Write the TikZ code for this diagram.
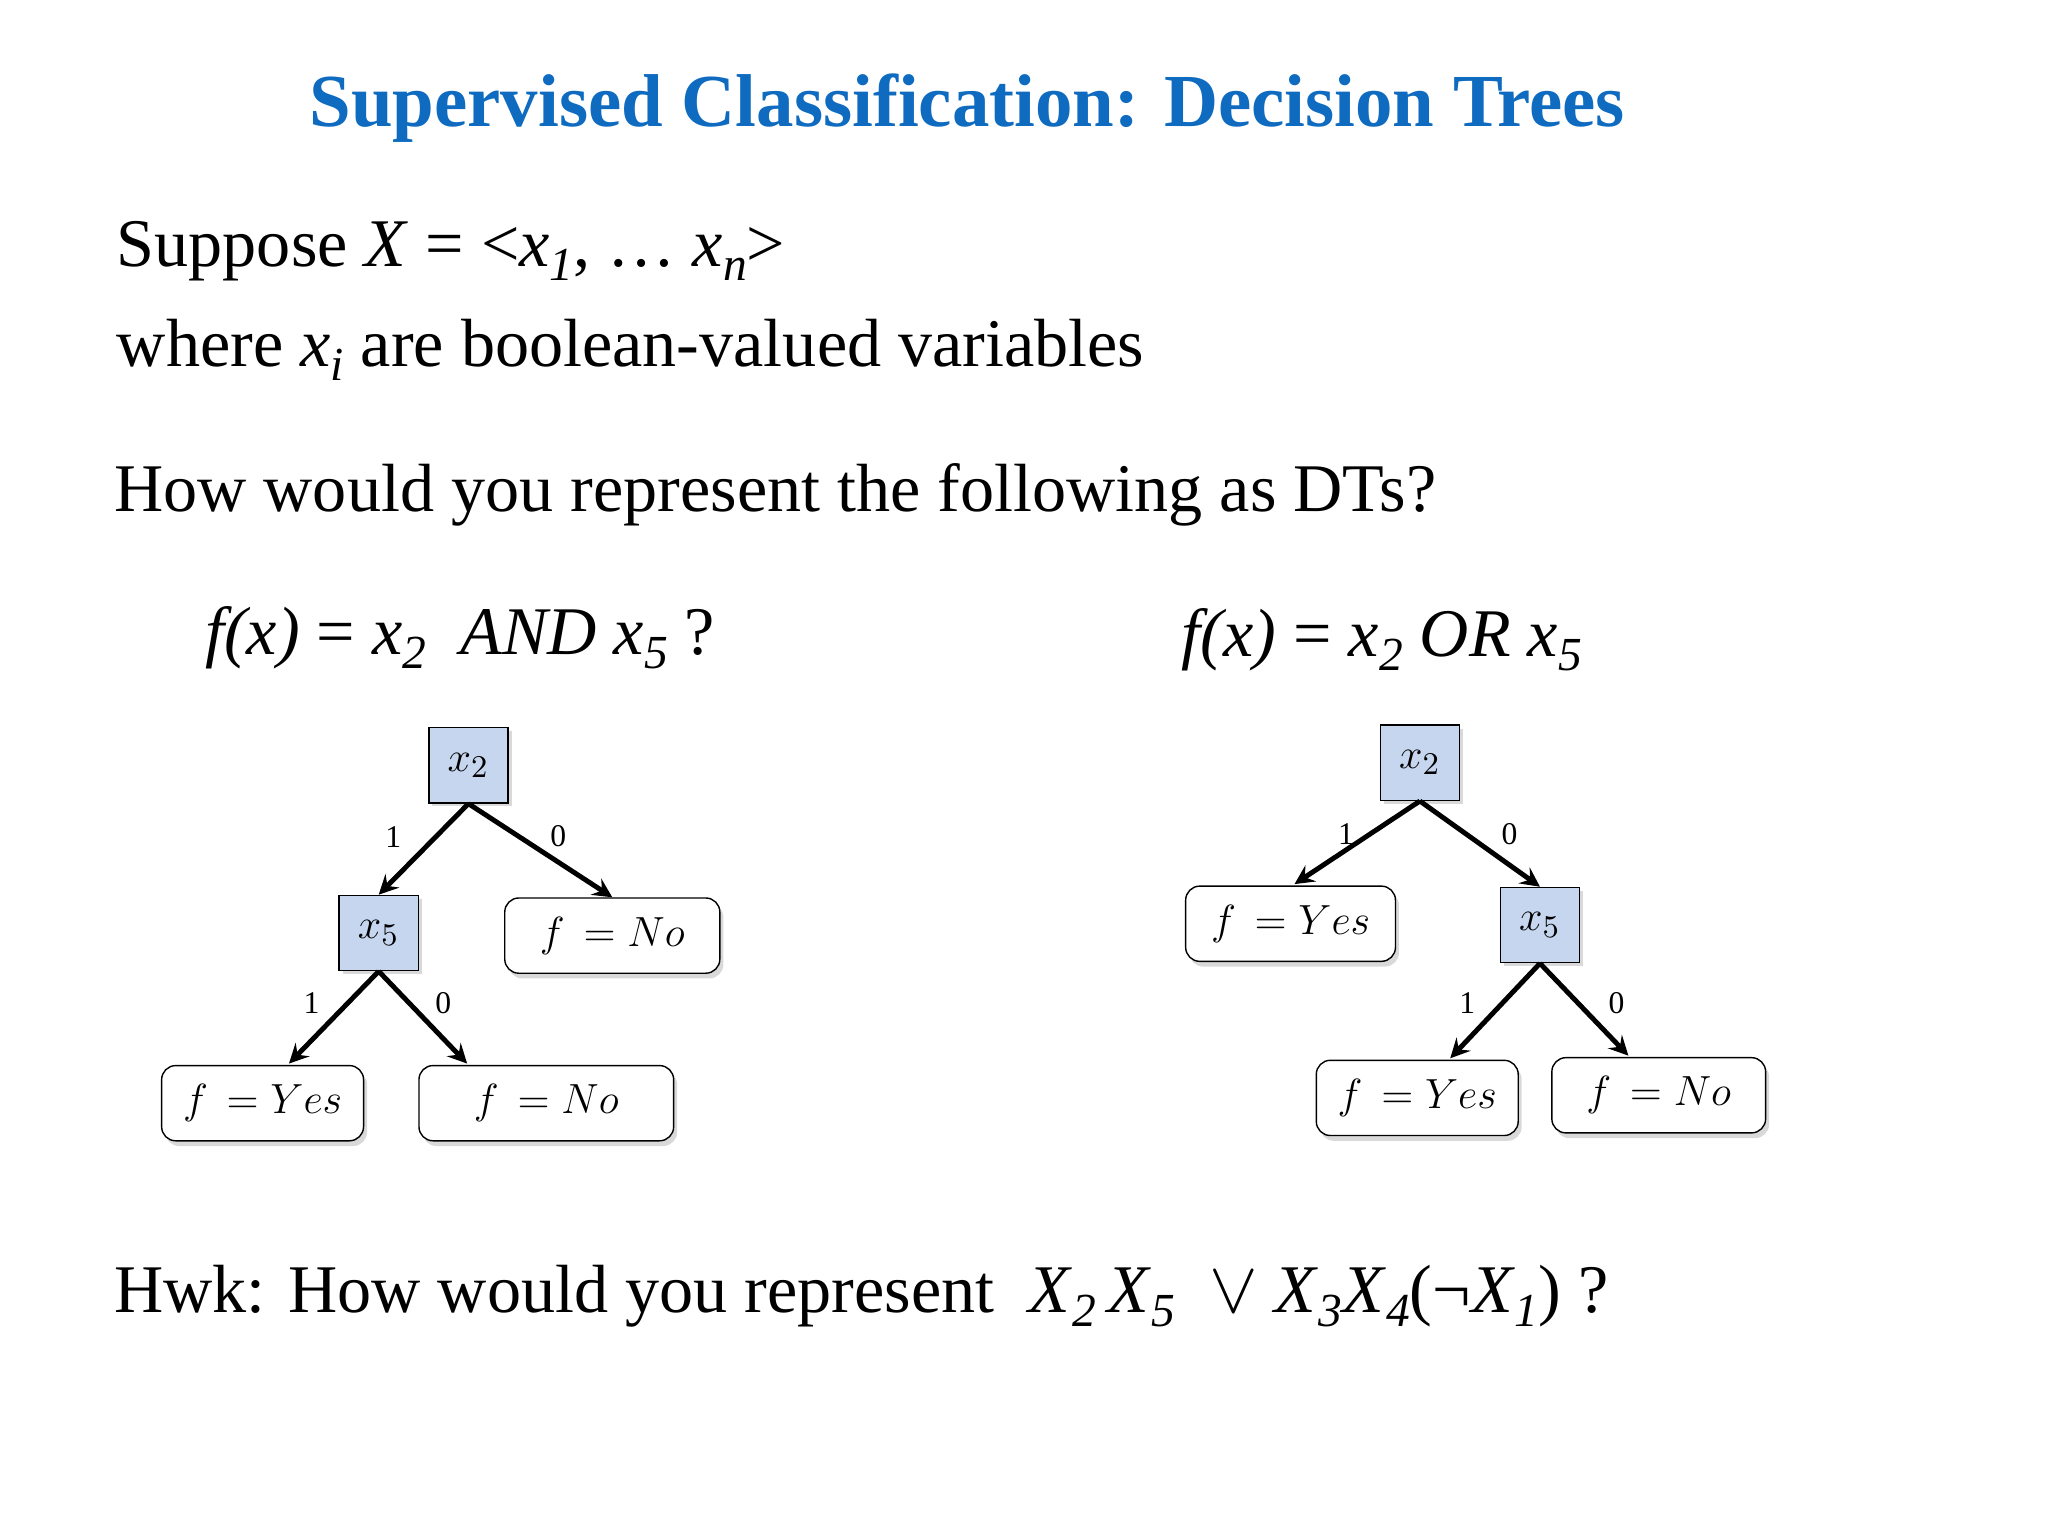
\documentclass[tikz,border=0pt]{standalone}
\usepackage{fontspec}
\setmainfont{Liberation Serif}
\usetikzlibrary{calc,shadows}
\definecolor{ttl}{RGB}{14,107,192}
\definecolor{boxb}{RGB}{198,214,238}
\newcommand{\sbx}[1]{\raisebox{-0.45ex}{\fontsize{13.5}{14}\selectfont\textit{#1}}}
\begin{document}
\begin{tikzpicture}[x=0.0132cm,y=-0.0132cm,
  txt/.style={anchor=west,inner sep=0pt,font=\fontsize{19.4}{24}\selectfont},
  var/.style={draw,fill=boxb,minimum width=60*0.0132cm,minimum height=57*0.0132cm,inner sep=0pt,font=\fontsize{13}{15}\selectfont,drop shadow={shadow xshift=1pt,shadow yshift=-1pt,opacity=0.3}},
  leaf/.style={draw,fill=white,rounded corners=4pt,minimum height=57*0.0132cm,inner sep=0pt,font=\fontsize{12}{14}\selectfont,drop shadow={shadow xshift=1pt,shadow yshift=-1.5pt,opacity=0.3}},
  edge/.style={-stealth,line width=1.4pt},
  el/.style={font=\fontsize{9}{10}\selectfont,inner sep=0pt}]
\useasboundingbox (0,0) rectangle (1552,1164);
\node[inner sep=0pt,font=\fontsize{21.3}{26}\selectfont\bfseries,text=ttl] (title) at (733,82) {Supervised Classification: Decision Trees};
\node[txt] (t1) at (88,190) {Suppose \textit{X} = <\textit{x}\sbx{1}, … \textit{x}\sbx{n}>};
\node[txt] (t2) at (88,265) {where \textit{x}\sbx{i} are boolean-valued variables};
\node[txt] (t3) at (86,375) {How would you represent the following as DTs?};
\node[txt] (t4) at (155,483) {\textit{f(x)} = \textit{x}\sbx{2}\ \ \textit{AND x}\sbx{5} ?};
\node[txt] (t5) at (895,485) {\textit{f(x)} = \textit{x}\sbx{2} \textit{OR x}\sbx{5}};
\node[txt] (t6) at (86,982) {Hwk: How would you represent\ \ \textit{X}\sbx{2}\,\textit{X}\sbx{5}\ \ $\vee$ \textit{X}\sbx{3}\textit{X}\sbx{4}(¬\textit{X}\sbx{1}) ?};
% left tree
\node[var] (a2) at (355,580) {$x_2$};
\node[var] (a5) at (287,707) {$x_5$};
\node[leaf,minimum width=163*0.0132cm] (an) at (464,709) {$f\,=No$};
\node[leaf,minimum width=153*0.0132cm] (ay) at (199,836) {$f\,=Yes$};
\node[leaf,minimum width=193*0.0132cm] (an2) at (414,836) {$f\,=No$};
\draw[edge] (a2.south) -- (a5.north);
\draw[edge] (a2.south) -- (an.north);
\draw[edge] (a5.south) -- ($(ay.north)+(20,-1)$);
\draw[edge] (a5.south) -- ($(an2.north)+(-60,-1)$);
\node[el] (la1) at (298,634) {1};
\node[el] (la0) at (423,634) {0};
\node[el] (lb1) at (236,760) {1};
\node[el] (lb0) at (336,760) {0};
% right tree
\node[var] (b2) at (1076,578) {$x_2$};
\node[leaf,minimum width=159*0.0132cm] (by) at (978,700) {$f\,=Yes$};
\node[var] (b5) at (1167,701) {$x_5$};
\node[leaf,minimum width=153*0.0132cm] (by2) at (1074,832) {$f\,=Yes$};
\node[leaf,minimum width=162*0.0132cm] (bn) at (1257,830) {$f\,=No$};
\draw[edge] (b2.south) -- ($(by.north)+(3,-1)$);
\draw[edge] (b2.south) -- (b5.north);
\draw[edge] (b5.south) -- ($(by2.north)+(25,-1)$);
\draw[edge] (b5.south) -- ($(bn.north)+(-23,-1)$);
\node[el] (lc1) at (1020,632) {1};
\node[el] (lc0) at (1144,632) {0};
\node[el] (ld1) at (1112,760) {1};
\node[el] (ld0) at (1225,760) {0};
\end{tikzpicture}
\end{document}
